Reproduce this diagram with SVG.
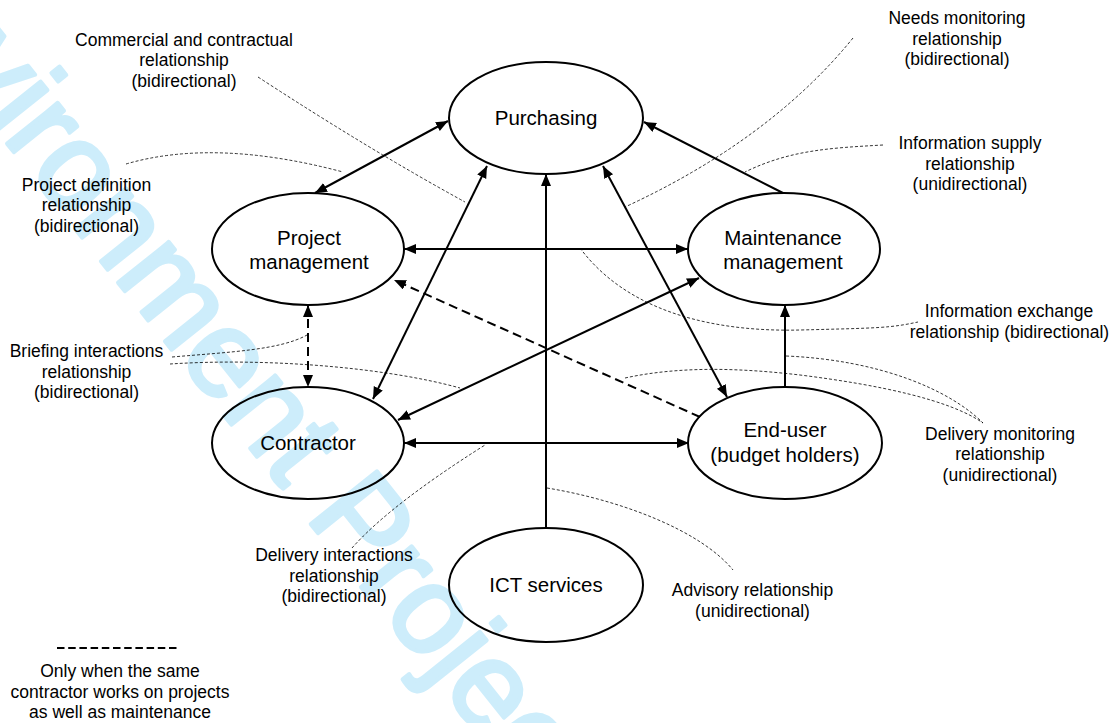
<svg xmlns="http://www.w3.org/2000/svg" width="1117" height="723" viewBox="0 0 1117 723">
<style>
.wm{font-family:"Liberation Sans",Arial,sans-serif;font-size:123px;fill:#cdedfb;stroke:#cdedfb;stroke-width:4;stroke-linejoin:round}
.node ellipse{fill:none;stroke:#000;stroke-width:2}
.nt{font-family:"Liberation Sans",Arial,sans-serif;font-size:20.5px;fill:#000;text-anchor:middle}
.lb{font-family:"Liberation Sans",Arial,sans-serif;font-size:17.5px;fill:#000;text-anchor:middle}
.c{fill:none;stroke:#000;stroke-width:2}
.dash{stroke-dasharray:9,5}
.ann{fill:none;stroke:#000;stroke-width:0.8;stroke-dasharray:3,2}
</style>
<defs>
<marker id="ah" markerUnits="userSpaceOnUse" markerWidth="13" markerHeight="11" refX="12" refY="5" orient="auto-start-reverse" viewBox="0 0 13 11">
<path d="M0,0 L12,5 L0,10 z" fill="#000"/>
</marker>
</defs>
<rect width="1117" height="723" fill="#fff"/>
<text class="wm" transform="translate(-147.5,-50) rotate(51.4)">Environment Project</text>

<g id="annotations">
<path class="ann" d="M258,77 Q370,150 465,202"/>
<path class="ann" d="M853,38 Q770,140 625,207"/>
<path class="ann" d="M883,145 C830,148 790,150 745,172"/>
<path class="ann" d="M126,164 Q215,138 343,172"/>
<path class="ann" d="M172,357 C230,352 280,350 307,335"/>
<path class="ann" d="M170,364 C260,358 380,366 460,388"/>
<path class="ann" d="M580,248 C630,315 720,332 800,330 S890,328 918,322"/>
<path class="ann" d="M786,356 C880,360 950,390 983,423"/>
<path class="ann" d="M625,378 C680,366 740,368 800,375 C880,385 950,400 983,423"/>
<path class="ann" d="M352,548 Q390,505 485,445"/>
<path class="ann" d="M547,488 C620,500 700,530 733,570"/>
</g>

<g id="connectors">
<line class="c" x1="315" y1="193" x2="448" y2="121" marker-start="url(#ah)" marker-end="url(#ah)"/>
<line class="c" x1="783" y1="193" x2="644" y2="122" marker-end="url(#ah)"/>
<line class="c" x1="373" y1="399" x2="487" y2="166" marker-start="url(#ah)" marker-end="url(#ah)"/>
<line class="c" x1="603" y1="166" x2="727" y2="397" marker-start="url(#ah)" marker-end="url(#ah)"/>
<line class="c" x1="546" y1="528" x2="546" y2="174" marker-end="url(#ah)"/>
<line class="c" x1="404" y1="249" x2="688" y2="249" marker-start="url(#ah)" marker-end="url(#ah)"/>
<line class="c" x1="404" y1="443" x2="689" y2="443" marker-start="url(#ah)" marker-end="url(#ah)"/>
<line class="c" x1="398" y1="420" x2="699" y2="278" marker-start="url(#ah)" marker-end="url(#ah)"/>
<line class="c dash" x1="700" y1="417" x2="394" y2="280" marker-end="url(#ah)"/>
<line class="c dash" x1="308" y1="305" x2="308" y2="387" marker-start="url(#ah)" marker-end="url(#ah)"/>
<line class="c" x1="785" y1="387" x2="785" y2="305" marker-end="url(#ah)"/>
</g>

<g id="purchasing" class="node"><ellipse cx="546" cy="118" rx="97" ry="56"/><text class="nt" x="546" y="125">Purchasing</text></g>
<g id="project-management" class="node"><ellipse cx="308" cy="249" rx="96" ry="56"/><text class="nt" x="309" y="245">Project</text><text class="nt" x="309" y="268.5">management</text></g>
<g id="maintenance-management" class="node"><ellipse cx="784" cy="249" rx="96" ry="56"/><text class="nt" x="783" y="245">Maintenance</text><text class="nt" x="783" y="268.5">management</text></g>
<g id="contractor" class="node"><ellipse cx="308" cy="443" rx="96" ry="56"/><text class="nt" x="308" y="450">Contractor</text></g>
<g id="end-user" class="node"><ellipse cx="785" cy="443" rx="97" ry="56"/><text class="nt" x="785" y="437">End-user</text><text class="nt" x="785" y="461.5">(budget holders)</text></g>
<g id="ict-services" class="node"><ellipse cx="546" cy="585" rx="97" ry="57"/><text class="nt" x="546" y="592">ICT services</text></g>

<g id="labels">
<text class="lb" x="184" y="45.5">Commercial and contractual</text>
<text class="lb" x="184" y="66">relationship</text>
<text class="lb" x="184" y="86.5">(bidirectional)</text>
<text class="lb" x="957" y="24">Needs monitoring</text>
<text class="lb" x="957" y="44.5">relationship</text>
<text class="lb" x="957" y="65">(bidirectional)</text>
<text class="lb" x="970" y="149">Information supply</text>
<text class="lb" x="970" y="169.5">relationship</text>
<text class="lb" x="970" y="190">(unidirectional)</text>
<text class="lb" x="86.5" y="190.5">Project definition</text>
<text class="lb" x="86.5" y="211">relationship</text>
<text class="lb" x="86.5" y="231.5">(bidirectional)</text>
<text class="lb" x="86.5" y="357">Briefing interactions</text>
<text class="lb" x="86.5" y="377.5">relationship</text>
<text class="lb" x="86.5" y="398">(bidirectional)</text>
<text class="lb" x="1009" y="317">Information exchange</text>
<text class="lb" x="1009.5" y="337.5">relationship (bidirectional)</text>
<text class="lb" x="1000" y="439.5">Delivery monitoring</text>
<text class="lb" x="1000" y="460">relationship</text>
<text class="lb" x="1000" y="480.5">(unidirectional)</text>
<text class="lb" x="334" y="561">Delivery interactions</text>
<text class="lb" x="334" y="581.5">relationship</text>
<text class="lb" x="334" y="602">(bidirectional)</text>
<text class="lb" x="752.5" y="596">Advisory relationship</text>
<text class="lb" x="752.5" y="616.5">(unidirectional)</text>
</g>

<g id="legend">
<line x1="57" y1="648" x2="180" y2="648" stroke="#000" stroke-width="2" stroke-dasharray="7.5,3.7"/>
<text class="lb" x="120" y="677">Only when the same</text>
<text class="lb" x="120" y="697.5">contractor works on projects</text>
<text class="lb" x="120" y="718">as well as maintenance</text>
</g>
</svg>
